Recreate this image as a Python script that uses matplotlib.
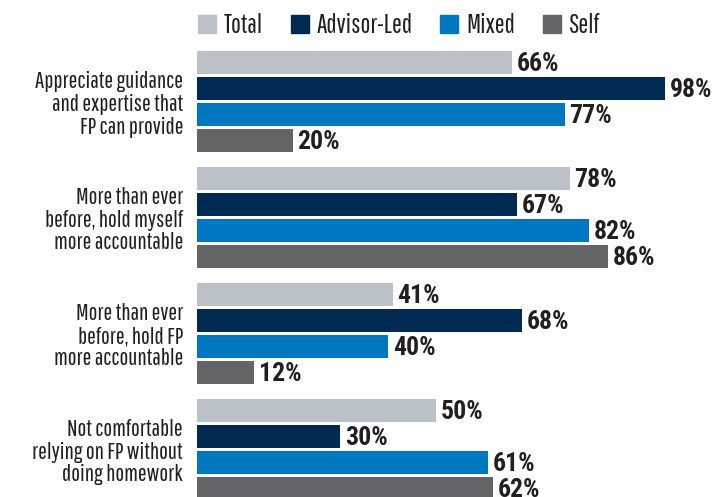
import matplotlib
matplotlib.use('Agg')
import matplotlib.pyplot as plt
from matplotlib.patches import Patch

plt.rcParams['font.family'] = ['Pathway Gothic One', 'DejaVu Sans']

categories = ['Appreciate guidance\nand expertise that\nFP can provide',
              'More than ever\nbefore, hold myself\nmore accountable',
              'More than ever\nbefore, hold FP\nmore accountable',
              'Not comfortable\nrelying on FP without\ndoing homework']
series = ['Total', 'Advisor-Led', 'Mixed', 'Self']
values = {
    'Total': [66, 78, 41, 50],
    'Advisor-Led': [98, 67, 68, 30],
    'Mixed': [77, 82, 40, 61],
    'Self': [20, 86, 12, 62],
}
colors = ['#bcc0c7', '#002a52', '#0078c1', '#646466']
text_color = '#231f20'
value_font = ['Roboto Condensed', 'DejaVu Sans']

group_step = 4.46

fig = plt.figure(figsize=(7.17, 4.97), dpi=100)
ax = fig.add_axes([197 / 717, 0, 477.6 / 717, 446 / 497])

for j, name in enumerate(series):
    ys = [i * group_step + j for i in range(len(categories))]
    ax.barh(ys, values[name], height=0.88, color=colors[j], label=name)
    for y, v in zip(ys, values[name]):
        ax.text(v + 1.0, y + 0.05, f'{v}%', va='center', ha='left',
                fontsize=18.5, fontweight='bold', family=value_font, color=text_color)

ax.set_xlim(0, 100)
ax.set_ylim(16.71, -0.44)
ax.set_yticks([i * group_step + 1.5 for i in range(len(categories))])
ax.set_yticklabels(categories, fontsize=16.8, color=text_color, linespacing=1.1)
ax.tick_params(axis='y', length=0, pad=10)
ax.set_xticks([])
for s in ax.spines.values():
    s.set_visible(False)

handles = [Patch(color=c, label=n) for c, n in zip(colors, series)]
fig.legend(handles=handles, loc='upper left', bbox_to_anchor=(198 / 717, 1 - 13 / 497),
           ncol=4, frameon=False, fontsize=19, handlelength=0.68, handleheight=0.68,
           handletextpad=0.3, columnspacing=1.05, borderpad=0, borderaxespad=0,
           labelcolor=text_color)

fig.savefig('out.png', dpi=100)
